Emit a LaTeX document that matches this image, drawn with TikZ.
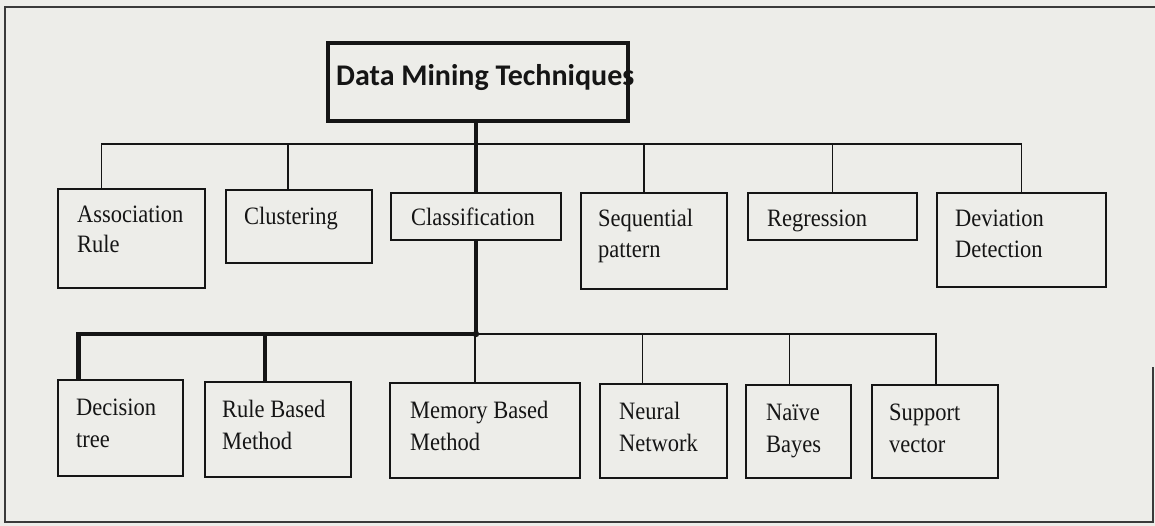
\documentclass[tikz,border=0pt]{standalone}
\usepackage{fontspec}
\setmainfont{Liberation Serif}[FakeStretch=0.9]
\newfontfamily\calib{Carlito}
\definecolor{paper}{HTML}{EDEDE9}
\definecolor{ink}{HTML}{151515}
\definecolor{framec}{HTML}{3A3A3A}
\begin{document}
\begin{tikzpicture}[x=1pt,y=-1pt,
  bx/.style={draw=ink, line width=1.7pt, inner sep=0pt, outer sep=0pt, anchor=north west},
  lbl/.style={anchor=base west, inner sep=0pt, text=ink, font=\fontsize{25}{30}\selectfont},
  conn/.style={draw=ink, line width=1.7pt},
  heavy/.style={draw=ink, line width=4.2pt},
]
\useasboundingbox (0,0) rectangle (1155,526);
\fill[paper] (0,0) rectangle (1155,526);
% outer frame
\draw[framec, line width=1.6pt] (1153,367) -- (1153,522) -- (5,522) -- (5,7) -- (1155,7);

% root
\node[anchor=base west, inner sep=0pt, text=ink, font=\calib\bfseries\fontsize{30}{35}\selectfont] (roottxt) at (336,86) {Data Mining Techniques};
\node[bx, line width=4.5pt, minimum width=300pt, minimum height=78pt] (root) at (328,43) {};

% level 1 boxes
\node[bx, minimum width=147pt, minimum height=99pt] (assoc) at (58,189) {};
\node[bx, minimum width=146pt, minimum height=73pt] (clust) at (226,190) {};
\node[bx, minimum width=170pt, minimum height=47pt] (classif) at (391,193) {};
\node[bx, minimum width=146pt, minimum height=96pt] (seq) at (581,193) {};
\node[bx, minimum width=169pt, minimum height=47pt] (regr) at (748,193) {};
\node[bx, minimum width=169pt, minimum height=94pt] (dev) at (937,193) {};

% level 2 boxes
\node[bx, minimum width=125pt, minimum height=96pt] (dec) at (58,380) {};
\node[bx, minimum width=146pt, minimum height=95pt] (rule) at (205,382) {};
\node[bx, minimum width=190pt, minimum height=95pt] (mem) at (390,383) {};
\node[bx, minimum width=127pt, minimum height=94pt] (neur) at (600,384) {};
\node[bx, minimum width=105pt, minimum height=93pt] (naive) at (746,385) {};
\node[bx, minimum width=126pt, minimum height=93pt] (supp) at (872,385) {};

% labels level 1
\node[lbl] (t1a) at ([xshift=19pt,yshift=-34pt]assoc.north west) {Association};
\node[lbl] (t1b) at ([xshift=19pt,yshift=-64pt]assoc.north west) {Rule};
\node[lbl] (t2) at ([xshift=18pt,yshift=-35pt]clust.north west) {Clustering};
\node[lbl] (t3) at ([xshift=20pt,yshift=-33pt]classif.north west) {Classification};
\node[lbl] (t4a) at ([xshift=17pt,yshift=-34pt]seq.north west) {Sequential};
\node[lbl] (t4b) at ([xshift=17pt,yshift=-65pt]seq.north west) {pattern};
\node[lbl] (t5) at ([xshift=19pt,yshift=-34pt]regr.north west) {Regression};
\node[lbl] (t6a) at ([xshift=18pt,yshift=-34pt]dev.north west) {Deviation};
\node[lbl] (t6b) at ([xshift=18pt,yshift=-65pt]dev.north west) {Detection};

% labels level 2
\node[lbl] (u1a) at ([xshift=18pt,yshift=-35pt]dec.north west) {Decision};
\node[lbl] (u1b) at ([xshift=18pt,yshift=-67pt]dec.north west) {tree};
\node[lbl] (u2a) at ([xshift=17pt,yshift=-35pt]rule.north west) {Rule Based};
\node[lbl] (u2b) at ([xshift=17pt,yshift=-67pt]rule.north west) {Method};
\node[lbl] (u3a) at ([xshift=20pt,yshift=-35pt]mem.north west) {Memory Based};
\node[lbl] (u3b) at ([xshift=20pt,yshift=-67pt]mem.north west) {Method};
\node[lbl] (u4a) at ([xshift=19pt,yshift=-35pt]neur.north west) {Neural};
\node[lbl] (u4b) at ([xshift=19pt,yshift=-67pt]neur.north west) {Network};
\node[lbl] (u5a) at ([xshift=20pt,yshift=-35pt]naive.north west) {Naïve};
\node[lbl] (u5b) at ([xshift=20pt,yshift=-67pt]naive.north west) {Bayes};
\node[lbl] (u6a) at ([xshift=17pt,yshift=-35pt]supp.north west) {Support};
\node[lbl] (u6b) at ([xshift=17pt,yshift=-67pt]supp.north west) {vector};

% level-1 connectors
\coordinate (bar1) at (0,144);
\coordinate (dA) at ([xshift=-30pt]assoc.north);
\coordinate (dC) at ([xshift=-11pt]clust.north);
\coordinate (dS) at ([xshift=-10pt]seq.north);
\draw[conn] (dA) -- (dA |- bar1) -- (dev.north |- bar1) -- (dev.north);
\draw[conn] (dC) -- (dC |- bar1);
\draw[conn] (dS) -- (dS |- bar1);
\draw[conn] (regr.north) -- (regr.north |- bar1);
\draw[heavy] (root.south -| classif.north) -- (classif.north);

% level-2 connectors
\coordinate (bar2) at (0,334);
\coordinate (jn) at (classif.south |- bar2);
\coordinate (eD) at ([xshift=-42pt]dec.north);
\coordinate (eR) at ([xshift=-13pt]rule.north);
\coordinate (eM) at ([xshift=-10pt]mem.north);
\coordinate (eN) at ([xshift=-21pt]neur.north);
\coordinate (eB) at ([xshift=-9pt]naive.north);
\coordinate (eS) at ([xshift=1pt]supp.north);
\draw[heavy] (classif.south) -- (jn);
\draw[heavy] (eD) -- (eD |- bar2) -- (jn);
\draw[heavy] (eR) -- (eR |- bar2);
\draw[conn] (jn) -- (eS |- bar2) -- (eS);
\draw[conn] (eM) -- (eM |- bar2);
\draw[conn] (eN) -- (eN |- bar2);
\draw[conn] (eB) -- (eB |- bar2);
\fill[ink] (jn) circle (3.2pt);
\end{tikzpicture}
\end{document}
